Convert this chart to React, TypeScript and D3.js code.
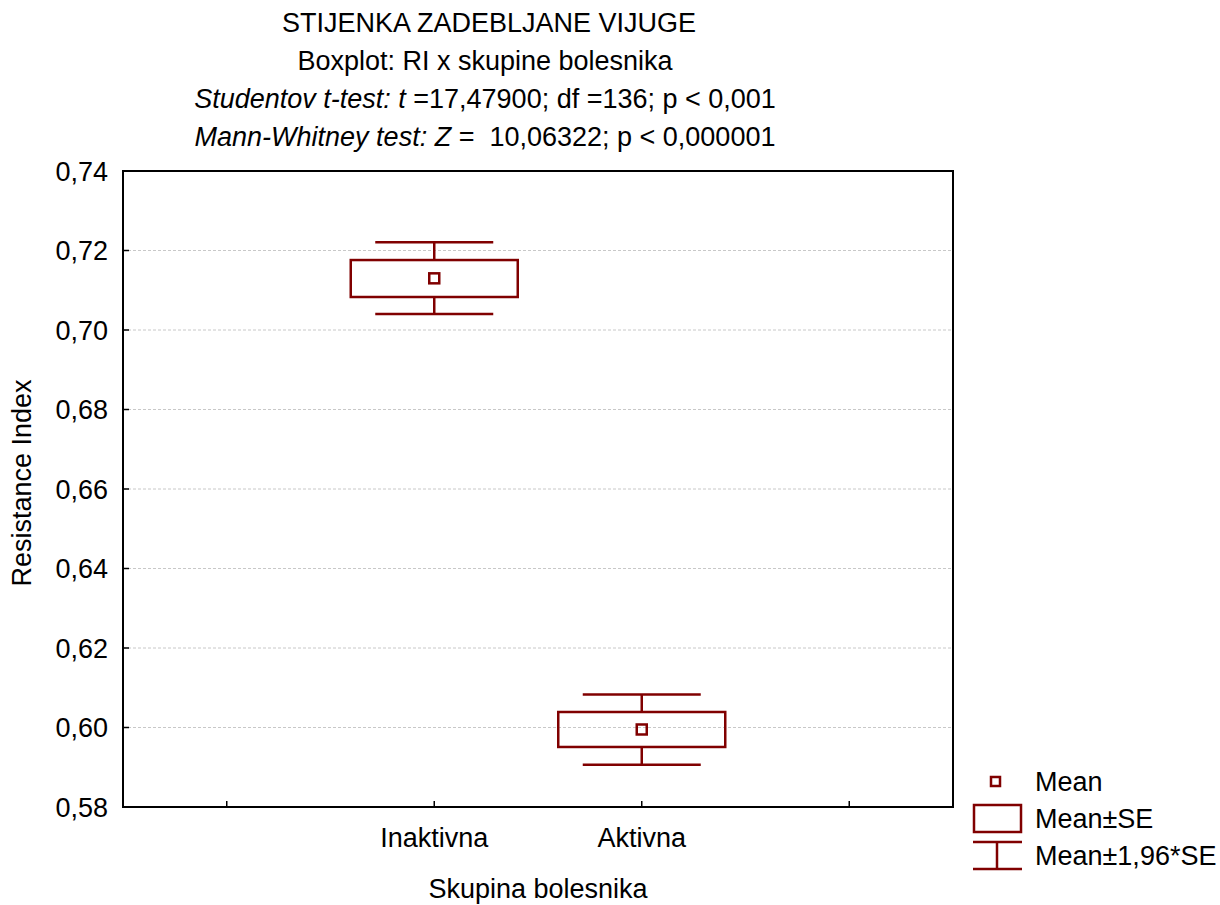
import React from "react";
import * as d3 from "d3";

const title = "STIJENKA ZADEBLJANE VIJUGE";
const subtitle = "Boxplot: RI x skupine bolesnika";
const ttestItalic = "Studentov t-test: t ";
const ttestRest = "=17,47900; df =136; p < 0,001";
const mwItalic = "Mann-Whitney test: Z";
const mwRest = " =\u00a0\u00a010,06322; p < 0,000001";

const categories = ["", "Inaktivna", "Aktivna", ""];
const groups = ["Inaktivna", "Aktivna"];
const means = [0.713, 0.5995];
const seLow = [0.7083, 0.5951];
const seHigh = [0.7176, 0.6039];
const ciLow = [0.704, 0.5906];
const ciHigh = [0.7221, 0.6083];
const yTicks = [0.58, 0.6, 0.62, 0.64, 0.66, 0.68, 0.7, 0.72, 0.74];
const legendLabels = ["Mean", "Mean±SE", "Mean±1,96*SE"];

const COLOR = "#800000";
const FONT = "'Liberation Sans', Arial, Helvetica, sans-serif";
const FS = 27;

export default function App() {
  const W = 1220, H = 905;
  const left = 123, right = 953, top = 171, bottom = 807;
  const x = d3.scaleLinear().domain([-0.5, 3.5]).range([left, right]);
  const y = d3.scaleLinear().domain([0.58, 0.74]).range([bottom, top]);
  const fmt = (v: number) => v.toFixed(2).replace(".", ",");
  const boxHalf = 83.5;
  const capHalf = 59;

  return (
    <svg width={W} height={H} style={{ position: "absolute", left: 0, top: 0, background: "#fff" }} fontFamily={FONT}>
      <rect x={0} y={0} width={W} height={H} fill="#fff" />
      {/* titles */}
      <g textAnchor="middle" fontSize={FS} fill="#000">
        <text x={489} y={32}>{title}</text>
        <text x={485} y={70}>{subtitle}</text>
        <text x={485} y={108}>
          <tspan fontStyle="italic">{ttestItalic}</tspan>
          <tspan>{ttestRest}</tspan>
        </text>
        <text x={485} y={146}>
          <tspan fontStyle="italic">{mwItalic}</tspan>
          <tspan>{mwRest}</tspan>
        </text>
      </g>
      {/* grid */}
      {yTicks.slice(1, -1).map((t) => (
        <line key={"g" + t} x1={left} x2={right} y1={y(t)} y2={y(t)} stroke="#c8c8c8" strokeWidth={1} strokeDasharray="3,2" />
      ))}
      {/* y ticks and labels */}
      {yTicks.map((t) => (
        <g key={"t" + t}>
          <line x1={left} x2={left + 6} y1={y(t)} y2={y(t)} stroke="#000" strokeWidth={1.5} />
          <text x={108} y={y(t) + 9.5} textAnchor="end" fontSize={FS}>{fmt(t)}</text>
        </g>
      ))}
      {/* x ticks */}
      {categories.map((c, i) => (
        <g key={"x" + i}>
          <line x1={x(i)} x2={x(i)} y1={bottom} y2={bottom - 6} stroke="#000" strokeWidth={1.5} />
          {c && <text x={x(i)} y={847} textAnchor="middle" fontSize={FS}>{c}</text>}
        </g>
      ))}
      {/* boxes */}
      {groups.map((g, k) => {
        const cx = x(categories.indexOf(g));
        return (
          <g key={g} stroke={COLOR} fill="none" strokeWidth={2.5}>
            <line x1={cx} x2={cx} y1={y(ciHigh[k])} y2={y(seHigh[k])} />
            <line x1={cx} x2={cx} y1={y(seLow[k])} y2={y(ciLow[k])} />
            <line x1={cx - capHalf} x2={cx + capHalf} y1={y(ciHigh[k])} y2={y(ciHigh[k])} />
            <line x1={cx - capHalf} x2={cx + capHalf} y1={y(ciLow[k])} y2={y(ciLow[k])} />
            <rect x={cx - boxHalf} y={y(seHigh[k])} width={boxHalf * 2} height={y(seLow[k]) - y(seHigh[k])} />
            <rect x={cx - 5} y={y(means[k]) - 5} width={10} height={10} strokeWidth={2.5} />
          </g>
        );
      })}
      {/* frame */}
      <rect x={left} y={top} width={right - left} height={bottom - top} fill="none" stroke="#000" strokeWidth={2} />
      {/* axis labels */}
      <text x={538} y={898} textAnchor="middle" fontSize={FS}>Skupina bolesnika</text>
      <text transform="translate(31,483) rotate(-90)" textAnchor="middle" fontSize={FS}>Resistance Index</text>
      {/* legend */}
      <g stroke={COLOR} fill="none" strokeWidth={2.5}>
        <rect x={991} y={777} width={9} height={9} />
        <rect x={974} y={805} width={47} height={27} />
        <line x1={973} x2={1022} y1={842} y2={842} />
        <line x1={973} x2={1022} y1={869} y2={869} />
        <line x1={997} x2={997} y1={842} y2={869} />
      </g>
      <g fontSize={FS} fill="#000">
        <text x={1035} y={791}>{legendLabels[0]}</text>
        <text x={1035} y={828}>{legendLabels[1]}</text>
        <text x={1035} y={865}>{legendLabels[2]}</text>
      </g>
    </svg>
  );
}
